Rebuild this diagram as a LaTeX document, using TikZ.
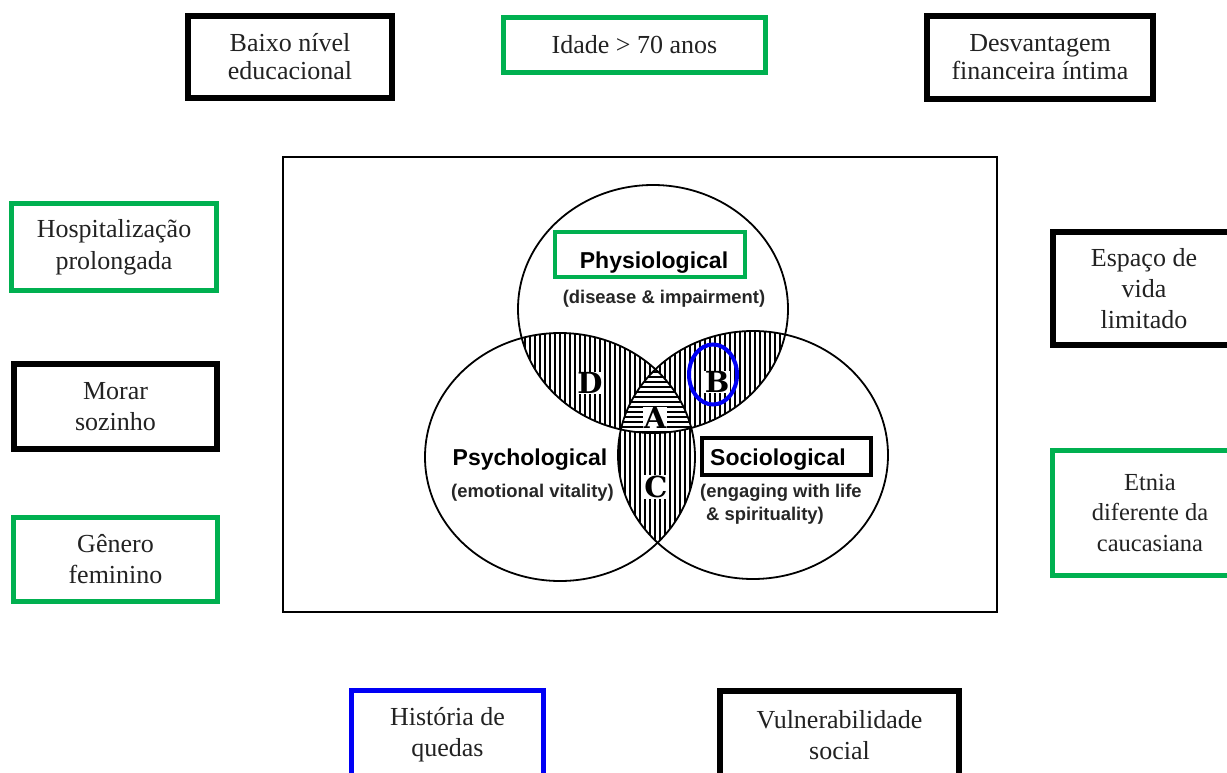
\documentclass[tikz,border=0pt]{standalone}
\usepackage{fontspec}
\setmainfont{Liberation Serif}
\setsansfont{Liberation Sans}
\newfontfamily\letterfont{DejaVu Serif}[BoldFont={DejaVu Serif Bold}]
\definecolor{vgreen}{RGB}{0,176,80}
\definecolor{vblue}{RGB}{0,0,245}
\definecolor{txt}{RGB}{34,34,34}
\tikzset{
  lbox/.style={draw=black, line width=6pt, inner sep=0pt, align=center,
    font=\fontsize{26}{31}\selectfont, text=txt},
  gbox/.style={lbox, draw=vgreen, line width=5pt},
  bbox/.style={lbox, draw=vblue, line width=5pt},
  hatch/.style={line width=1.1pt, black},
  venn/.style={line width=1.8pt, black},
  heading/.style={font=\sffamily\bfseries\fontsize{23}{25}\selectfont, inner sep=0pt},
  sub/.style={font=\sffamily\bfseries\fontsize{18.4}{22}\selectfont, inner sep=0pt, text=black!85},
  letter/.style={font=\letterfont\bfseries\fontsize{29}{29}\selectfont, inner sep=0.6pt, fill=white},
}
\begin{document}
\begin{tikzpicture}[x=1pt,y=-1pt]
\useasboundingbox (0,0) rectangle (1227,773);
\fill[white] (0,0) rectangle (1227,773);

% outer boxes
\node[lbox, minimum width=204pt, minimum height=82pt, font=\fontsize{26}{28}\selectfont] (baixo) at (290,57) {Baixo nível\\educacional};
\node[gbox, minimum width=262pt, minimum height=55pt] (idade) at (634.5,45) {Idade > 70 anos};
\node[lbox, minimum width=226pt, minimum height=83pt, font=\fontsize{26}{28}\selectfont] (desv) at (1040,57.5) {Desvantagem\\financeira íntima};
\node[gbox, minimum width=205pt, minimum height=87pt, font=\fontsize{26}{32}\selectfont] (hosp) at (114,247) {Hospitalização\\prolongada};
\node[lbox, minimum width=203pt, minimum height=85pt] (morar) at (115.5,406.5) {Morar\\sozinho};
\node[gbox, minimum width=204pt, minimum height=84pt] (genero) at (115.5,559.5) {Gênero\\feminino};
\node[lbox, minimum width=182pt, minimum height=113pt] (espaco) at (1144,288.5) {Espaço de\\vida\\limitado};
\node[gbox, minimum width=195pt, minimum height=125pt, font=\fontsize{24.5}{30.5}\selectfont] (etnia) at (1150,513) {Etnia\\diferente da\\caucasiana};
\node[bbox, minimum width=192pt, minimum height=89pt] (historia) at (447.5,735) {História de\\quedas};
\node[lbox, minimum width=239pt, minimum height=88pt] (vulner) at (839.5,735) {Vulnerabilidade\\social};

% central frame
\node[draw=black, line width=1.5pt, minimum width=714pt, minimum height=455pt, inner sep=0pt] (frame) at (640,384.5) {};

% Venn centres
\coordinate (cT) at (653,309);
\coordinate (cL) at (560,457);
\coordinate (cR) at (753,455);
\def\rx{135pt}\def\ry{124pt}

% vertical hatching in pairwise intersections
\begin{scope}
  \clip (cT) ellipse [x radius=\rx, y radius=\ry];
  \clip (cL) ellipse [x radius=\rx, y radius=\ry];
  \foreach \x in {500,505,...,720} \draw[hatch] (\x,300) -- (\x,470);
\end{scope}
\begin{scope}
  \clip (cT) ellipse [x radius=\rx, y radius=\ry];
  \clip (cR) ellipse [x radius=\rx, y radius=\ry];
  \foreach \x in {600,605,...,800} \draw[hatch] (\x,300) -- (\x,470);
\end{scope}
\begin{scope}
  \clip (cL) ellipse [x radius=\rx, y radius=\ry];
  \clip (cR) ellipse [x radius=\rx, y radius=\ry];
  \foreach \x in {600,605,...,720} \draw[hatch] (\x,350) -- (\x,560);
\end{scope}
% horizontal hatching in the triple intersection
\begin{scope}
  \clip (cT) ellipse [x radius=\rx, y radius=\ry];
  \clip (cL) ellipse [x radius=\rx, y radius=\ry];
  \clip (cR) ellipse [x radius=\rx, y radius=\ry];
  \fill[white] (600,350) rectangle (720,450);
  \foreach \y in {372,377,...,440} \draw[hatch] (600,\y) -- (720,\y);
\end{scope}

% circle outlines
\draw[venn] (cT) ellipse [x radius=\rx, y radius=\ry];
\draw[venn] (cL) ellipse [x radius=\rx, y radius=\ry];
\draw[venn] (cR) ellipse [x radius=\rx, y radius=\ry];

% region letters
\node[letter] (lD) at (590,383) {D};
\node[letter] (lA) at (655,418) {A};
\node[letter] (lB) at (717,382) {B};
\node[letter] (lC) at (656,487) {C};
\draw[vblue, line width=4pt] (713,374.5) ellipse [x radius=24pt, y radius=30pt];

% Physiological
\node[draw=vgreen, line width=4pt, minimum width=190pt, minimum height=45pt, inner sep=0pt] (physbox) at (650,254.5) {};
\node[heading, anchor=base] (physio) at (654,268) {Physiological};
\node[sub, anchor=base] (physsub) at (664,303) {(disease \& impairment)};

% Psychological
\node[heading, anchor=base] (psych) at (530,465) {Psychological};
\node[sub, anchor=base] (psychsub) at (532.5,497) {(emotional vitality)};

% Sociological
\node[draw=black, line width=4pt, minimum width=169pt, minimum height=37pt, inner sep=0pt] (sociobox) at (786.5,456.5) {};
\node[heading, anchor=base west] (socio) at (710,465) {Sociological};
\node[sub, anchor=base west] (sociosub1) at (700,497) {(engaging with life};
\node[sub, anchor=base west] (sociosub2) at (706,520) {\& spirituality)};
\end{tikzpicture}
\end{document}
